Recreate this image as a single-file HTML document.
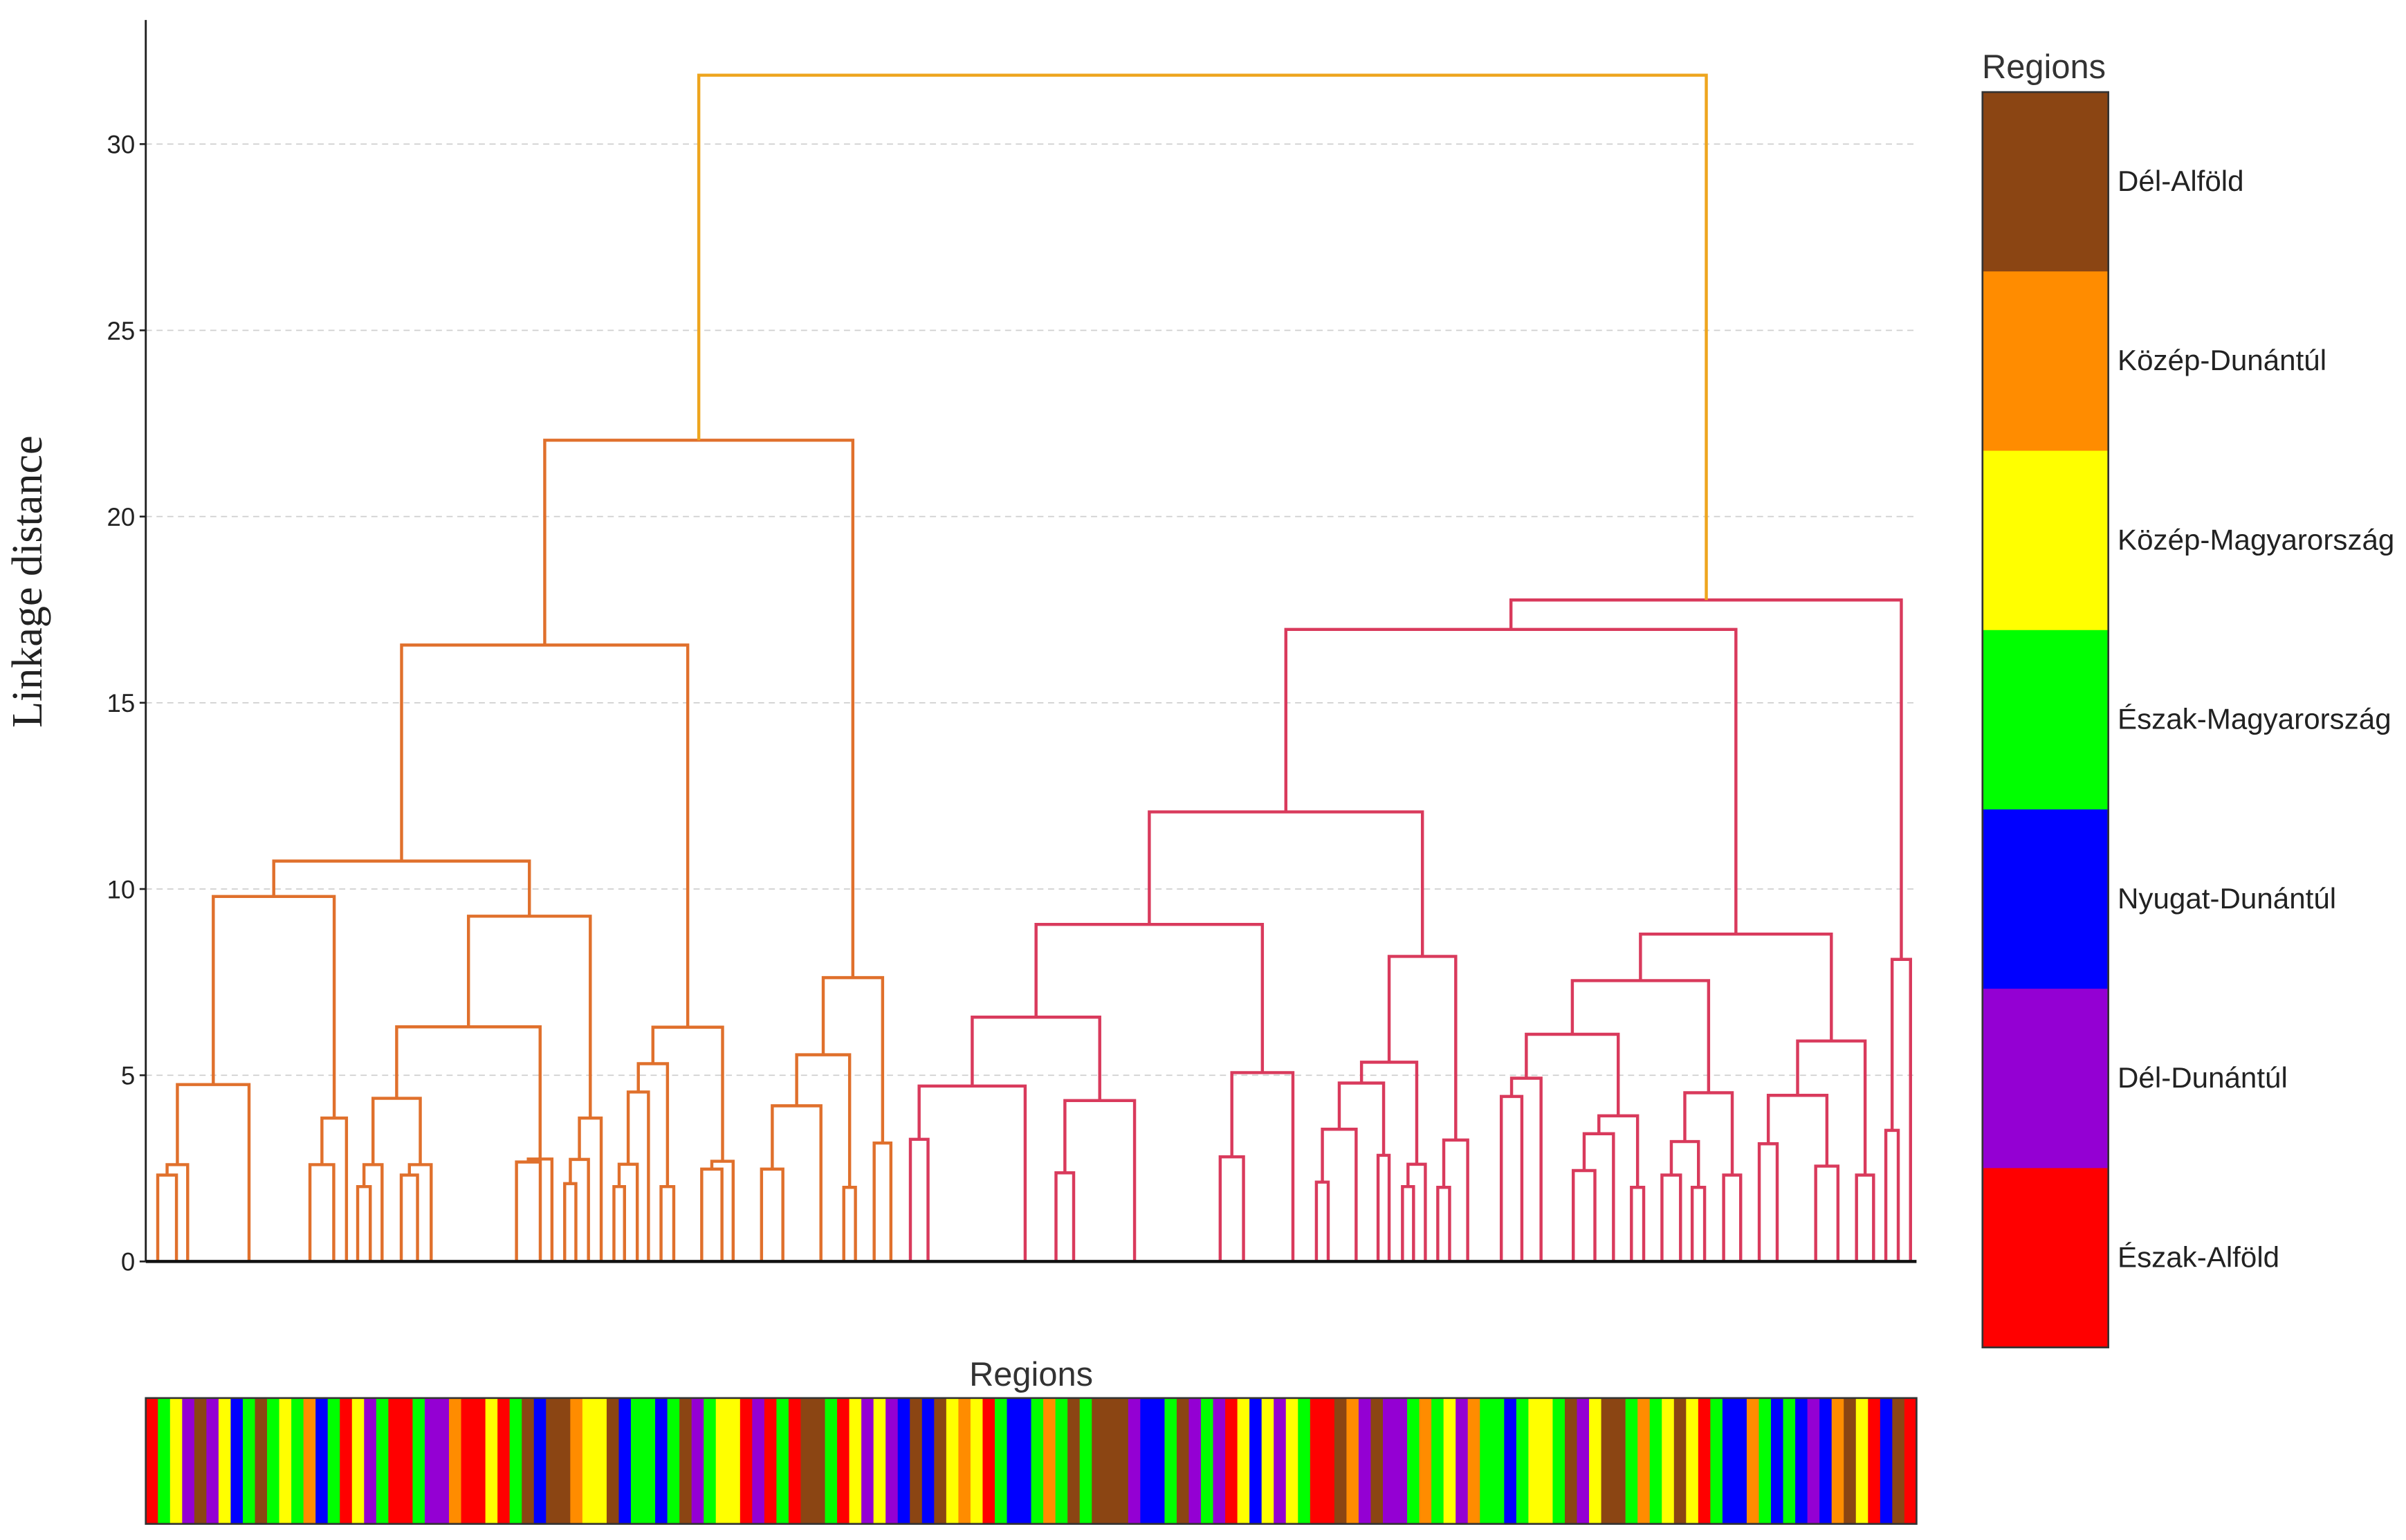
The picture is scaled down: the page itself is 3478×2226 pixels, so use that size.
<!DOCTYPE html>
<html><head><meta charset="utf-8"><style>
html,body{margin:0;padding:0;background:#fff;}
svg{display:block;}
text{font-family:"Liberation Sans",sans-serif;}
</style></head><body>
<svg id="chart" width="3478" height="2226" viewBox="0 0 1568 1003.5" preserveAspectRatio="none" xmlns="http://www.w3.org/2000/svg">
<g id="grid"></g>
<g id="links"></g>
<g id="axes"></g>
<text x="0" y="0" transform="translate(27,379) rotate(-90)" text-anchor="middle" style="font-family:'Liberation Serif',serif;font-size:28px;fill:#222">Linkage distance</text>
<text x="672" y="903" text-anchor="middle" style="font-size:22px;fill:#333">Regions</text>
<g id="strip"></g>
<text x="1332" y="51" text-anchor="middle" style="font-size:22px;fill:#333">Regions</text>
<g id="legend"></g>
</svg>
<script>
// ---- data ----
const yTicks = [0, 5, 10, 15, 20, 25, 30];
// Links: [leftPos, leftChildHeight, rightPos, rightChildHeight, mergeHeight]
const orangeLinks = [
[102.8,0,115.0,0,2.32],[108.9,2.32,122.3,0,2.60],[115.6,2.60,162.3,0,4.75],
[202.0,0,217.5,0,2.60],[209.8,2.60,225.8,0,3.85],[139.0,4.75,217.8,3.85,9.80],
[233.1,0,241.3,0,2.01],[237.2,2.01,249.0,0,2.60],[261.5,0,272.1,0,2.32],
[266.8,2.32,281.0,0,2.60],[243.1,2.60,273.9,2.60,4.38],[336.6,0,352.1,0,2.67],
[344.3,2.67,359.7,0,2.75],[258.5,4.38,352.0,2.75,6.30],[368.0,0,375.3,0,2.09],
[371.7,2.09,383.5,0,2.74],[377.6,2.74,391.8,0,3.85],[305.3,6.30,384.7,3.85,9.27],
[178.4,9.80,345.0,9.27,10.75],[400.1,0,407.0,0,2.01],[403.5,2.01,415.3,0,2.61],
[409.4,2.61,422.6,0,4.55],[430.8,0,439.1,0,2.01],[416.0,4.55,435.0,2.01,5.31],
[457.3,0,470.5,0,2.48],[463.9,2.48,477.8,0,2.69],[425.5,5.31,470.9,2.69,6.29],
[261.7,10.75,448.2,6.29,16.55],[496.3,0,510.2,0,2.48],[503.3,2.48,535.0,0,4.18],
[549.9,0,557.5,0,1.99],[519.2,4.18,553.7,1.99,5.55],[569.7,0,580.6,0,3.18],
[536.5,5.55,575.2,3.18,7.62],[355.0,16.55,555.8,7.62,22.05]
];
const crimsonLinks = [
[593.3,0,604.8,0,3.28],[599.0,3.28,668.1,0,4.71],[688.2,0,699.7,0,2.38],
[694.0,2.38,739.4,0,4.32],[633.6,4.71,716.7,4.32,6.56],[795.2,0,810.4,0,2.81],
[802.8,2.81,842.6,0,5.07],[675.2,6.56,822.7,5.07,9.05],[857.9,0,865.6,0,2.13],
[861.8,2.13,883.8,0,3.55],[898.1,0,905.3,0,2.85],[872.8,3.55,901.7,2.85,4.79],
[914.0,0,921.2,0,2.01],[917.6,2.01,928.9,0,2.61],[887.3,4.79,923.3,2.61,5.35],
[937.0,0,944.7,0,1.99],[940.9,1.99,956.5,0,3.26],[905.3,5.35,948.7,3.26,8.19],
[749.0,9.05,927.0,8.19,12.07],[978.4,0,991.8,0,4.43],[985.1,4.43,1004.3,0,4.92],
[1025.3,0,1039.4,0,2.44],[1032.4,2.44,1051.5,0,3.43],[1063.2,0,1071.2,0,1.99],
[1042.0,3.43,1067.2,1.99,3.91],[994.7,4.92,1054.6,3.91,6.10],[1083.1,0,1095.2,0,2.32],
[1102.8,0,1110.9,0,1.99],[1089.2,2.32,1106.9,1.99,3.22],[1123.3,0,1134.4,0,2.32],
[1098.0,3.22,1128.9,2.32,4.53],[1024.7,6.10,1113.5,4.53,7.54],[1146.5,0,1158.2,0,3.16],
[1183.3,0,1197.8,0,2.56],[1152.4,3.16,1190.6,2.56,4.46],[1209.9,0,1221.0,0,2.32],
[1171.5,4.46,1215.5,2.32,5.92],[1069.1,7.54,1193.5,5.92,8.79],[1229.0,0,1237.1,0,3.52],
[1233.1,3.52,1245.1,0,8.11],[838.0,12.07,1131.3,8.79,16.97],[984.7,16.97,1239.1,8.11,17.76]
];
const rootLinks = [[455.4,22.05,1112.0,17.76,31.85]];
// Leaf region strip: run-length codes
const stripCodes = "r1 g1 y1 p1 n1 p1 y1 b1 g1 n1 g1 y1 g1 o1 b1 g1 r1 y1 p1 g1 r2 g1 p2 o1 r2 y1 r1 g1 n1 b1 n2 o1 y2 n1 b1 g2 b1 g1 n1 p1 g1 y2 r1 p1 r1 g1 r1 n2 g1 r1 y1 p1 y1 p1 b1 n1 b1 n1 y1 o1 y1 r1 g1 b2 g1 o1 g1 n1 g1 n3 p1 b2 g1 n1 p1 g1 p1 r1 y1 b1 y1 p1 y1 g1 r2 n1 o1 p1 n1 p2 g1 o1 g1 y1 p1 o1 g2 b1 g1 y2 g1 n1 p1 y1 n2 g1 o1 g1 y1 n1 y1 r1 g1 b2 o1 g1 b1 g1 b1 p1 b1 o1 n1 y1 r1 b1 n1 r1".split(" ");
const regionNames = ["Dél-Alföld","Közép-Dunántúl","Közép-Magyarország","Észak-Magyarország","Nyugat-Dunántúl","Dél-Dunántúl","Észak-Alföld"];
const regionCodes = ["n","o","y","g","b","p","r"];
const regionColors = {n:"#8B4513",o:"#FF8C00",y:"#FFFF00",g:"#00FF00",b:"#0000FF",p:"#9400D3",r:"#FF0000"};

// ---- scales ----
const X0=95, X1=1249, P0=95, P1=1249, Y0=822, YPER=24.27;
function xs(p){return X0+(p-P0)*(X1-X0)/(P1-P0);}
function ys(v){return Y0-v*YPER;}
const NS="http://www.w3.org/2000/svg";
function mk(tag,attrs,parent){const e=document.createElementNS(NS,tag);for(const k in attrs)e.setAttribute(k,attrs[k]);parent.appendChild(e);return e;}

const grid=document.getElementById('grid'), axes=document.getElementById('axes');
yTicks.forEach(t=>{
  if(t>0){const g=mk('line',{x1:X0,x2:X1,y1:ys(t),y2:ys(t),stroke:'#cfcfcf','stroke-width':0.8,'stroke-dasharray':'4,3'},grid);
  
  }
  const tk=mk('line',{x1:X0-4,x2:X0,y1:ys(t),y2:ys(t),stroke:'#222','stroke-width':1.2},axes);
  
  
  const tx=mk('text',{x:X0-7,y:ys(t)+6,'text-anchor':'end',style:'font-size:16.5px;fill:#222'},axes);
  tx.textContent=String(t);
  
  
});
const ya=mk('line',{x1:X0,x2:X0,y1:13,y2:Y0,stroke:'#222','stroke-width':1.3},axes);



const links=document.getElementById('links');
function drawLinks(arr,color,name){
  arr.forEach((l,i)=>{
    const d=`M${xs(l[0])},${ys(l[1])}V${ys(l[4])}H${xs(l[2])}V${ys(l[3])}`;
    const p=mk('path',{d:d,fill:'none',stroke:color,'stroke-width':2},links);
    
    
  });
}
drawLinks(orangeLinks,'#E0702C','orange-cluster');
drawLinks(crimsonLinks,'#D93A5C','crimson-cluster');
drawLinks(rootLinks,'#EEA51E','root');

const xa=mk('line',{x1:X0,x2:X1,y1:Y0,y2:Y0,stroke:'#111','stroke-width':2},axes);



// strip
const strip=document.getElementById('strip');
const total=stripCodes.reduce((s,c)=>s+parseInt(c.slice(1)),0);
let acc=0; const SY=911, SH=82;
stripCodes.forEach((c,i)=>{
  const n=parseInt(c.slice(1));
  const x=X0+acc/total*(X1-X0), w=n/total*(X1-X0);
  const r=mk('rect',{x:x,y:SY,width:w+0.3,height:SH,fill:regionColors[c[0]]},strip);
  
  
  acc+=n;
});
const sb=mk('rect',{x:X0,y:SY,width:X1-X0,height:SH,fill:'none',stroke:'#333','stroke-width':1.2},strip);



// legend
const legend=document.getElementById('legend');
const LX=1292, LW=82, LY=60, LH=818, bh=LH/regionNames.length;
regionNames.forEach((nm,i)=>{
  const r=mk('rect',{x:LX,y:LY+i*bh,width:LW,height:bh+0.3,fill:regionColors[regionCodes[i]]},legend);
  
  
  const t=mk('text',{x:1380,y:LY+i*bh+bh/2+6,style:'font-size:19px;fill:#222'},legend);
  t.textContent=nm;
  
  
});
const lb=mk('rect',{x:LX,y:LY,width:LW,height:LH,fill:'none',stroke:'#333','stroke-width':1.2},legend);


</script>
</body></html>
